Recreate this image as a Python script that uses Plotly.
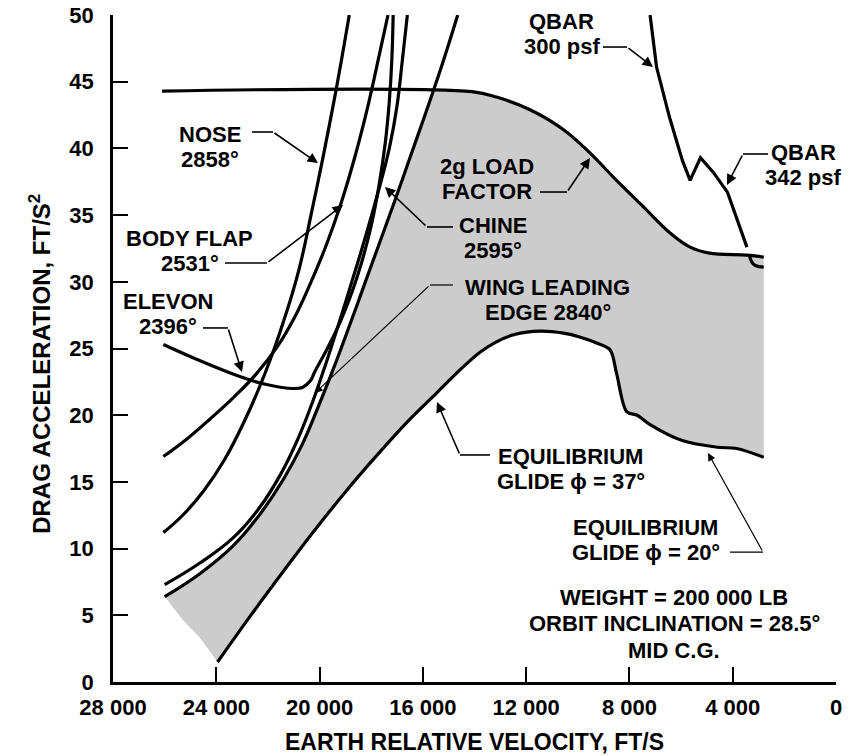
import numpy as np
import plotly.graph_objects as go

# ---- data (velocity ft/s, drag acceleration ft/s^2) ----
nose_v = [26050, 25300, 24500, 23700, 22900, 22100, 21400, 20800, 20300, 19850, 19350, 18850]
nose_d = [11.2, 12.5, 14.3, 16.6, 19.6, 23.2, 27.0, 30.9, 35.3, 39.5, 44.5, 50.0]

bodyflap_v = [26050, 25150, 24250, 23350, 22450, 21650, 20950, 20350, 19750, 19150, 18600, 18100, 17700, 17350]
bodyflap_d = [16.9, 18.2, 19.7, 21.3, 23.1, 25.1, 27.4, 29.9, 32.7, 36.0, 39.6, 43.4, 46.9, 50.0]

elevon_v = [26050, 24650, 22950, 22050, 21050, 20650, 20350, 20200, 19700, 19200, 18750, 18350, 18000, 17700, 17450, 17300, 17200, 17150]
elevon_d = [25.3, 24.1, 22.8, 22.3, 22.0, 22.1, 22.6, 23.2, 25.0, 27.0, 29.2, 31.6, 34.2, 37.2, 40.5, 43.5, 46.7, 50.0]

chine_v = [26000, 24650, 23350, 22350, 21500, 20800, 20250, 19750, 19250, 18750, 18250, 17750, 17300, 17000, 16800, 16600]
chine_d = [7.3, 8.9, 10.8, 13.0, 15.6, 18.4, 21.1, 23.9, 26.9, 30.0, 33.2, 36.6, 40.0, 43.2, 46.5, 50.0]

wle_v = [26000, 24650, 23350, 22300, 21400, 20700, 20100, 19500, 18900, 18300, 17700, 17100, 16500, 15900, 15300, 14650]
wle_d = [6.4, 8.1, 10.2, 12.6, 15.2, 17.7, 20.4, 23.3, 26.4, 29.6, 32.8, 36.0, 39.3, 42.6, 46.0, 50.0]

load2g_v = [26100, 14100, 13150, 11850, 10550, 9550, 8500, 7450, 6450, 5650, 4900, 3450, 2800]
load2g_d = [44.3, 44.25, 43.85, 42.9, 41.4, 39.7, 37.6, 35.6, 33.7, 32.6, 32.15, 32.0, 31.85]

qbar_v = [7200, 6950, 6450, 5950, 5650, 5250, 4750, 4200, 3450]
qbar_d = [50.0, 46.1, 42.35, 39.1, 37.6, 39.3, 38.2, 36.7, 32.6]

hook_v = [3350, 3250, 3100, 2800]
hook_d = [31.95, 31.45, 31.2, 31.1]

glide_v = [23950, 22700, 21400, 20200, 19000, 17800, 16600, 15450, 14450, 13800, 13150, 12450,
           11450, 10550, 9900, 9250, 8750, 8500, 8100, 7700, 7200, 5950, 4600, 3850, 2800]
glide_d = [1.5, 4.9, 8.3, 11.35, 14.25, 16.95, 19.5, 21.7, 23.6, 24.7, 25.5, 26.05,
           26.3, 26.15, 25.85, 25.4, 24.9, 23.15, 20.25, 20.0, 19.3, 18.1, 17.6, 17.5, 16.85]

edge_v = [25300, 24650]
edge_d = [4.65, 3.35]

x_ticks = [28000, 24000, 20000, 16000, 12000, 8000, 4000, 0]
x_tick_text = ["28 000", "24 000", "20 000", "16 000", "12 000", "8 000", "4 000", "0"]
y_ticks = [0, 5, 10, 15, 20, 25, 30, 35, 40, 45, 50]

FONT = "Liberation Sans, Arial, Helvetica, sans-serif"
GRAY = "rgb(204,204,204)"

# ---- corridor polygon ----
top_d = load2g_d[1]
v_int = float(np.interp(top_d, wle_d, wle_v))
poly_v, poly_d = [], []
for v, d in zip(wle_v, wle_d):
    if d < top_d:
        poly_v.append(v); poly_d.append(d)
poly_v.append(v_int); poly_d.append(top_d)
for v, d in zip(load2g_v, load2g_d):
    if v < v_int:
        poly_v.append(v); poly_d.append(d)
poly_v += glide_v[::-1]; poly_d += glide_d[::-1]
poly_v += edge_v[::-1]; poly_d += edge_d[::-1]
poly_v.append(wle_v[0]); poly_d.append(wle_d[0])

fig = go.Figure()
fig.add_trace(go.Scatter(x=poly_v, y=poly_d, fill="toself", fillcolor=GRAY,
                         line=dict(width=0), mode="lines", hoverinfo="skip"))

def curve(v, d, shape="spline", w=3.2, sm=1.2):
    fig.add_trace(go.Scatter(x=v, y=d, mode="lines",
                             line=dict(color="black", width=w, shape=shape, smoothing=sm)))

curve(nose_v, nose_d)
curve(bodyflap_v, bodyflap_d)
curve(elevon_v, elevon_d, sm=1.0)
curve(chine_v, chine_d)
curve(wle_v, wle_d)
curve(load2g_v, load2g_d, sm=1.0)
curve(qbar_v, qbar_d, shape="linear")
curve(hook_v, hook_d)
curve(glide_v, glide_d, sm=0.9)

annotations = []
shapes = []

def label(lines, v, d, spacing=25, size=22):
    n = len(lines)
    for i, t in enumerate(lines):
        annotations.append(dict(x=v, y=d, xref="x", yref="y", text=t, showarrow=False,
                                yshift=((n - 1) / 2 - i) * spacing,
                                xanchor="center", yanchor="middle",
                                font=dict(family=FONT, size=size, color="black", weight="bold")))

def leader(h0, h1, tip, w=1.6):
    shapes.append(dict(type="line", xref="x", yref="y", x0=h0[0], y0=h0[1], x1=h1[0], y1=h1[1],
                       line=dict(color="black", width=w)))
    annotations.append(dict(x=tip[0], y=tip[1], ax=h1[0], ay=h1[1], xref="x", yref="y",
                            axref="x", ayref="y", text="", showarrow=True, arrowhead=2,
                            arrowsize=1.3, arrowwidth=w, arrowcolor="black", standoff=0))

label(["NOSE", "2858°"], 24245, 40.07)
leader((22618, 41.23), (21805, 41.23), (20062, 38.90))
label(["BODY FLAP", "2531°"], 25020, 32.31)
leader((23664, 31.41), (22037, 31.41), (19094, 35.76))
label(["ELEVON", "2396°"], 25872, 27.55)
leader((24516, 26.54), (23548, 26.54), (23006, 23.24))
label(["CHINE", "2595°"], 13284, 33.32)
leader((14834, 34.11), (15841, 34.11), (17467, 37.11))
label(["WING LEADING", "EDGE 2840°"], 11154, 28.63)
leader((14834, 29.76), (15724, 29.76), (20178, 21.66), w=1.2)
label(["2g LOAD", "FACTOR"], 13517, 37.74)
leader((11464, 36.73), (10418, 36.73), (9528, 39.28))
label(["QBAR", "300 psf"], 10612, 48.57)
leader((9024, 47.60), (8095, 47.60), (7088, 46.10))
label(["QBAR", "342 psf"], 1278, 38.75)
leader((2634, 39.58), (3602, 39.58), (4222, 37.26))
label(["EQUILIBRIUM", "GLIDE \u03d5 = 37°"], 10263, 16.00)
leader((13401, 17.02), (14562, 17.02), (15453, 20.99))
label(["EQUILIBRIUM", "GLIDE \u03d5 = 20°"], 7359, 10.68)
leader((4105, 9.74), (2827, 9.74), (4957, 17.17), w=1.2)
label(["WEIGHT = 200 000 LB", "ORBIT INCLINATION = 28.5°", "MID C.G."], 6274, 4.35, spacing=26.5)

# axis titles
annotations.append(dict(x=0.5, y=-0.090, xref="paper", yref="paper", showarrow=False,
                        text="EARTH RELATIVE VELOCITY, FT/S", xanchor="center", yanchor="middle",
                        font=dict(family=FONT, size=23, color="black", weight="bold")))
annotations.append(dict(x=-0.101, y=0.477, xref="paper", yref="paper", showarrow=False,
                        text="DRAG ACCELERATION, FT/S<sup>2</sup>", textangle=-90,
                        xanchor="center", yanchor="middle",
                        font=dict(family=FONT, size=24, color="black", weight="bold")))

axis_common = dict(showgrid=False, zeroline=False, showline=True, linecolor="black", linewidth=2.5,
                   ticks="inside", ticklen=15, tickwidth=2, tickcolor="black", automargin=False,
                   tickfont=dict(family=FONT, size=22, color="black", weight="bold"))

fig.update_layout(
    width=861, height=756,
    margin=dict(l=113, r=25, t=15, b=74, autoexpand=False),
    paper_bgcolor="white", plot_bgcolor="white",
    showlegend=False,
    xaxis=dict(range=[28000, 0], tickvals=x_ticks, ticktext=x_tick_text,
               ticklabelstandoff=4, **axis_common),
    yaxis=dict(range=[0, 50], tickvals=y_ticks, ticklabelstandoff=12, **axis_common),
    annotations=annotations,
    shapes=shapes,
)

fig.write_html("out.html")
